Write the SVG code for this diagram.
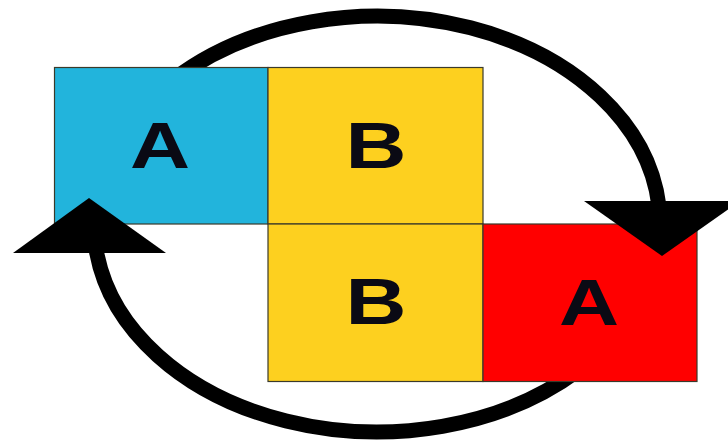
<svg xmlns="http://www.w3.org/2000/svg" width="728" height="442" viewBox="0 0 728 442">
<style>
.box{stroke:#3a3a2a;stroke-width:1.2}
.lbl{font-family:"Liberation Sans",Arial,sans-serif;font-weight:bold;font-size:64px;fill:#0a0a14;text-anchor:middle}
.arc{fill:none;stroke:#000;stroke-width:15}
.head{fill:#000}
</style>
<rect width="728" height="442" fill="#fff"/>
<g id="connectors">
<path class="arc" d="M173,80 A283,208 0 0 1 658.8,205"/>
<path class="arc" d="M578.5,370 A283,208 0 0 1 96.2,250"/>
</g>
<g id="node-a-blue">
<rect class="box" x="54.5" y="67.5" width="213.5" height="156.5" fill="#22B4DC"/>
<text class="lbl" transform="translate(160,168) scale(1.3,1)">A</text>
</g>
<g id="node-b-top">
<rect class="box" x="268" y="67.5" width="215" height="156.5" fill="#FDD01F"/>
<text class="lbl" transform="translate(376,168) scale(1.32,1)">B</text>
</g>
<g id="node-b-bottom">
<rect class="box" x="268" y="224" width="215" height="157.5" fill="#FDD01F"/>
<text class="lbl" transform="translate(376,324) scale(1.32,1)">B</text>
</g>
<g id="node-a-red">
<rect class="box" x="483" y="224" width="214" height="157.5" fill="#FF0000"/>
<text class="lbl" transform="translate(589,325) scale(1.3,1)">A</text>
</g>
<g id="arrowheads">
<polygon class="head" points="584,201 740,201 662,256"/>
<polygon class="head" points="13,253 166,253 89,198"/>
</g>
</svg>
